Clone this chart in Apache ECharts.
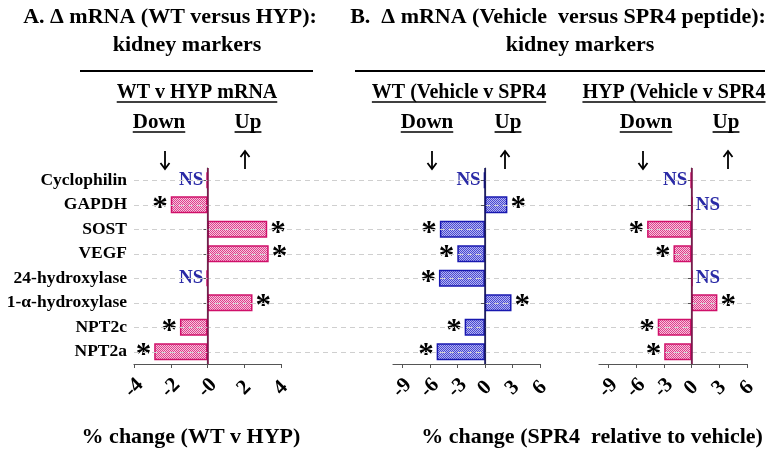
<!DOCTYPE html>
<html><head><meta charset="utf-8">
<script src="https://cdn.jsdelivr.net/npm/echarts@6/dist/echarts.min.js"></script>
<style>html,body{margin:0;padding:0;background:#fff}#c{width:776px;height:456px}</style>
</head><body><div id="c"></div>
<script>
// ---------- data ----------
const categories = ['Cyclophilin','GAPDH','SOST','VEGF','24-hydroxylase','1-\u03b1-hydroxylase','NPT2c','NPT2a'];
const wtVsHyp    = [-0.05, -2.0, 3.25, 3.33, -0.05, 2.45, -1.5, -2.9];
const wtVsHypSig = ['NS','*','*','*','NS','*','*','*'];
const wtSpr4     = [-0.1, 2.45, -4.9, -3.0, -5.0, 2.9, -2.2, -5.25];
const wtSpr4Sig  = ['NS','*','*','*','*','*','*','*'];
const hypSpr4    = [-0.1, 0.1, -4.8, -1.95, 0.1, 2.8, -3.65, -2.95];
const hypSpr4Sig = ['NS','NS','*','*','NS','*','*','*'];
const ticksA = [-4,-2,0,2,4];
const tickLabelsA = ['-4','-2','-0','2','4'];
const ticksB = [-9,-6,-3,0,3,6];
const tickLabelsB = ['-9','-6','-3','0','3','6'];

// ---------- helpers ----------
const SERIF = '"Liberation Serif","Times New Roman",serif';
const mctx = document.createElement('canvas').getContext('2d');
function tw(text, font){ mctx.font = font; return mctx.measureText(text).width; }
function pattern(c1, c2){
  const cv = document.createElement('canvas'); cv.width = cv.height = 2;
  const x = cv.getContext('2d');
  x.fillStyle = c2; x.fillRect(0,0,2,2);
  x.fillStyle = c1; x.fillRect(0,0,1,1); x.fillRect(1,1,1,1);
  return cv;
}
const pinkFill = {image: pattern('#de3f8c', '#f6c6dd'), repeat: 'repeat'};
const blueFill = {image: pattern('#4a4ad0', '#b4b4f2'), repeat: 'repeat'};

function barData(vals){
  return vals.map(v => ({value: v, label: {position: v < 0 ? 'left' : 'right'}}));
}
function labelCfg(sig){
  return {
    show: true, distance: 3, fontFamily: SERIF, fontWeight: 'bold', fontSize: 18,
    formatter: p => sig[p.dataIndex] === 'NS' ? '{ns|NS}' : '{st|*}',
    rich: {
      ns: {color: '#2a2aa6', fontFamily: SERIF, fontWeight: 'bold', fontSize: 19},
      st: {color: '#000', fontFamily: SERIF, fontWeight: 'bold', fontSize: 31, padding: [9,0,0,0]}
    }
  };
}
function zeroLine(color){
  return {silent: true, symbol: ['none','none'], animation: false, label: {show: false},
    lineStyle: {color: color, width: 1.5, type: 'solid'}, data: [{xAxis: 0}]};
}
function xAxisCfg(gi, min, max, ticks, labels){
  return {
    gridIndex: gi, type: 'value', min: min, max: max,
    axisLine: {show: true, lineStyle: {color: '#555', width: 1.2}},
    axisTick: {show: true, length: 4, lineStyle: {color: '#555'}, customValues: ticks},
    splitLine: {show: false},
    axisLabel: {
      customValues: ticks, rotate: 45, align: 'center', verticalAlign: 'middle', margin: 24,
      fontFamily: SERIF, fontWeight: 'bold', fontSize: 21, color: '#000',
      formatter: v => labels[ticks.indexOf(v)]
    }
  };
}
function yAxisCfg(gi, showLabel){
  return {
    gridIndex: gi, type: 'category', data: categories, inverse: true,
    axisLine: {show: true, lineStyle: {color: '#555', width: 1.2}},
    axisTick: {show: true, alignWithLabel: true, length: 4, lineStyle: {color: '#555'}},
    splitLine: {show: false},
    axisLabel: {show: showLabel, margin: 7, fontFamily: SERIF, fontWeight: 'bold', fontSize: 17.5, color: '#000'}
  };
}

// ---------- annotations ----------
const graphics = [];
function txt(text, x, y, size, color){
  const font = 'bold ' + size + 'px ' + SERIF;
  graphics.push({type: 'text', x: x, y: y, silent: true,
    style: {text: text, font: font, fill: color || '#000', align: 'center', verticalAlign: 'middle'}});
  return tw(text, font);
}
function uline(text, x, y, size, off){
  const w = txt(text, x, y, size);
  graphics.push({type: 'line', silent: true, shape: {x1: x - w/2, y1: y + off, x2: x + w/2, y2: y + off},
    style: {stroke: '#000', lineWidth: 1.6}});
}
function hline(x1, x2, y, lw){
  graphics.push({type: 'line', silent: true, shape: {x1: x1, y1: y, x2: x2, y2: y}, style: {stroke: '#000', lineWidth: lw}});
}
function arrow(x, up){
  const y1 = 151, y2 = 169;
  graphics.push({type: 'line', silent: true, shape: {x1: x, y1: y1, x2: x, y2: y2}, style: {stroke: '#000', lineWidth: 1.8}});
  const ty = up ? y1 : y2, d = up ? 6 : -6;
  graphics.push({type: 'polyline', silent: true, shape: {points: [[x-4.5, ty + d], [x, ty], [x+4.5, ty + d]]},
    style: {stroke: '#000', lineWidth: 1.8, fill: null}});
}
txt('A. \u0394 mRNA (WT versus HYP):', 170, 17, 22);
txt('kidney markers', 187, 45, 22);
txt('B.  \u0394 mRNA (Vehicle  versus SPR4 peptide):', 558, 17, 22);
txt('kidney markers', 580, 45, 22);
hline(80, 313, 71, 2);
hline(355, 765, 71, 2);
uline('WT v HYP mRNA', 197, 93, 20, 9);
uline('WT (Vehicle v SPR4', 459, 93, 20, 9);
uline('HYP (Vehicle v SPR4', 674, 93, 20, 9);
uline('Down', 159, 123, 21, 9);
uline('Up', 248, 123, 21, 9);
uline('Down', 427, 123, 21, 9);
uline('Up', 508, 123, 21, 9);
uline('Down', 646, 123, 21, 9);
uline('Up', 726, 123, 21, 9);
arrow(165, false); arrow(245, true);
arrow(432, false); arrow(505, true);
arrow(643, false); arrow(728, true);
txt('% change (WT v HYP)', 191, 437, 22);
txt('% change (SPR4  relative to vehicle)', 592, 437, 22);

// ---------- chart ----------
const chart = echarts.init(document.getElementById('c'), null, {renderer: 'canvas'});
chart.setOption({
  animation: false,
  backgroundColor: '#fff',
  grid: [
    {left: 134, right: 495, top: 168, bottom: 92},
    {left: 393, right: 236, top: 168, bottom: 92},
    {left: 599, right: 29, top: 168, bottom: 92},
    {left: 134, right: 21, top: 168, bottom: 92}
  ],
  xAxis: [
    xAxisCfg(0, -4, 4, ticksA, tickLabelsA),
    xAxisCfg(1, -10, 6, ticksB, tickLabelsB),
    xAxisCfg(2, -10, 6, ticksB, tickLabelsB),
    {gridIndex: 3, type: 'value', min: 0, max: 1, show: false}
  ],
  yAxis: [
    yAxisCfg(0, true), yAxisCfg(1, false), yAxisCfg(2, false),
    {gridIndex: 3, type: 'category', data: categories, inverse: true, show: false}
  ],
  series: [
    {type: 'line', xAxisIndex: 3, yAxisIndex: 3, z: 0, silent: true, showSymbol: false,
      data: categories.map(() => null),
      markLine: {silent: true, symbol: ['none','none'], label: {show: false}, animation: false,
        lineStyle: {type: [5,4], color: '#cfcfcf', width: 1},
        data: categories.map((c, i) => ({yAxis: i}))}},
    {type: 'bar', xAxisIndex: 0, yAxisIndex: 0, barWidth: 17, data: barData(wtVsHyp),
      itemStyle: {color: pinkFill, borderColor: '#d0106a', borderWidth: 1.5},
      label: labelCfg(wtVsHypSig), markLine: zeroLine('#7a1048')},
    {type: 'bar', xAxisIndex: 1, yAxisIndex: 1, barWidth: 17, data: barData(wtSpr4),
      itemStyle: {color: blueFill, borderColor: '#1818b0', borderWidth: 1.5},
      label: labelCfg(wtSpr4Sig), markLine: zeroLine('#101060')},
    {type: 'bar', xAxisIndex: 2, yAxisIndex: 2, barWidth: 17, data: barData(hypSpr4),
      itemStyle: {color: pinkFill, borderColor: '#d0106a', borderWidth: 1.5},
      label: labelCfg(hypSpr4Sig), markLine: zeroLine('#7a1048')}
  ],
  graphic: graphics
});
</script></body></html>
